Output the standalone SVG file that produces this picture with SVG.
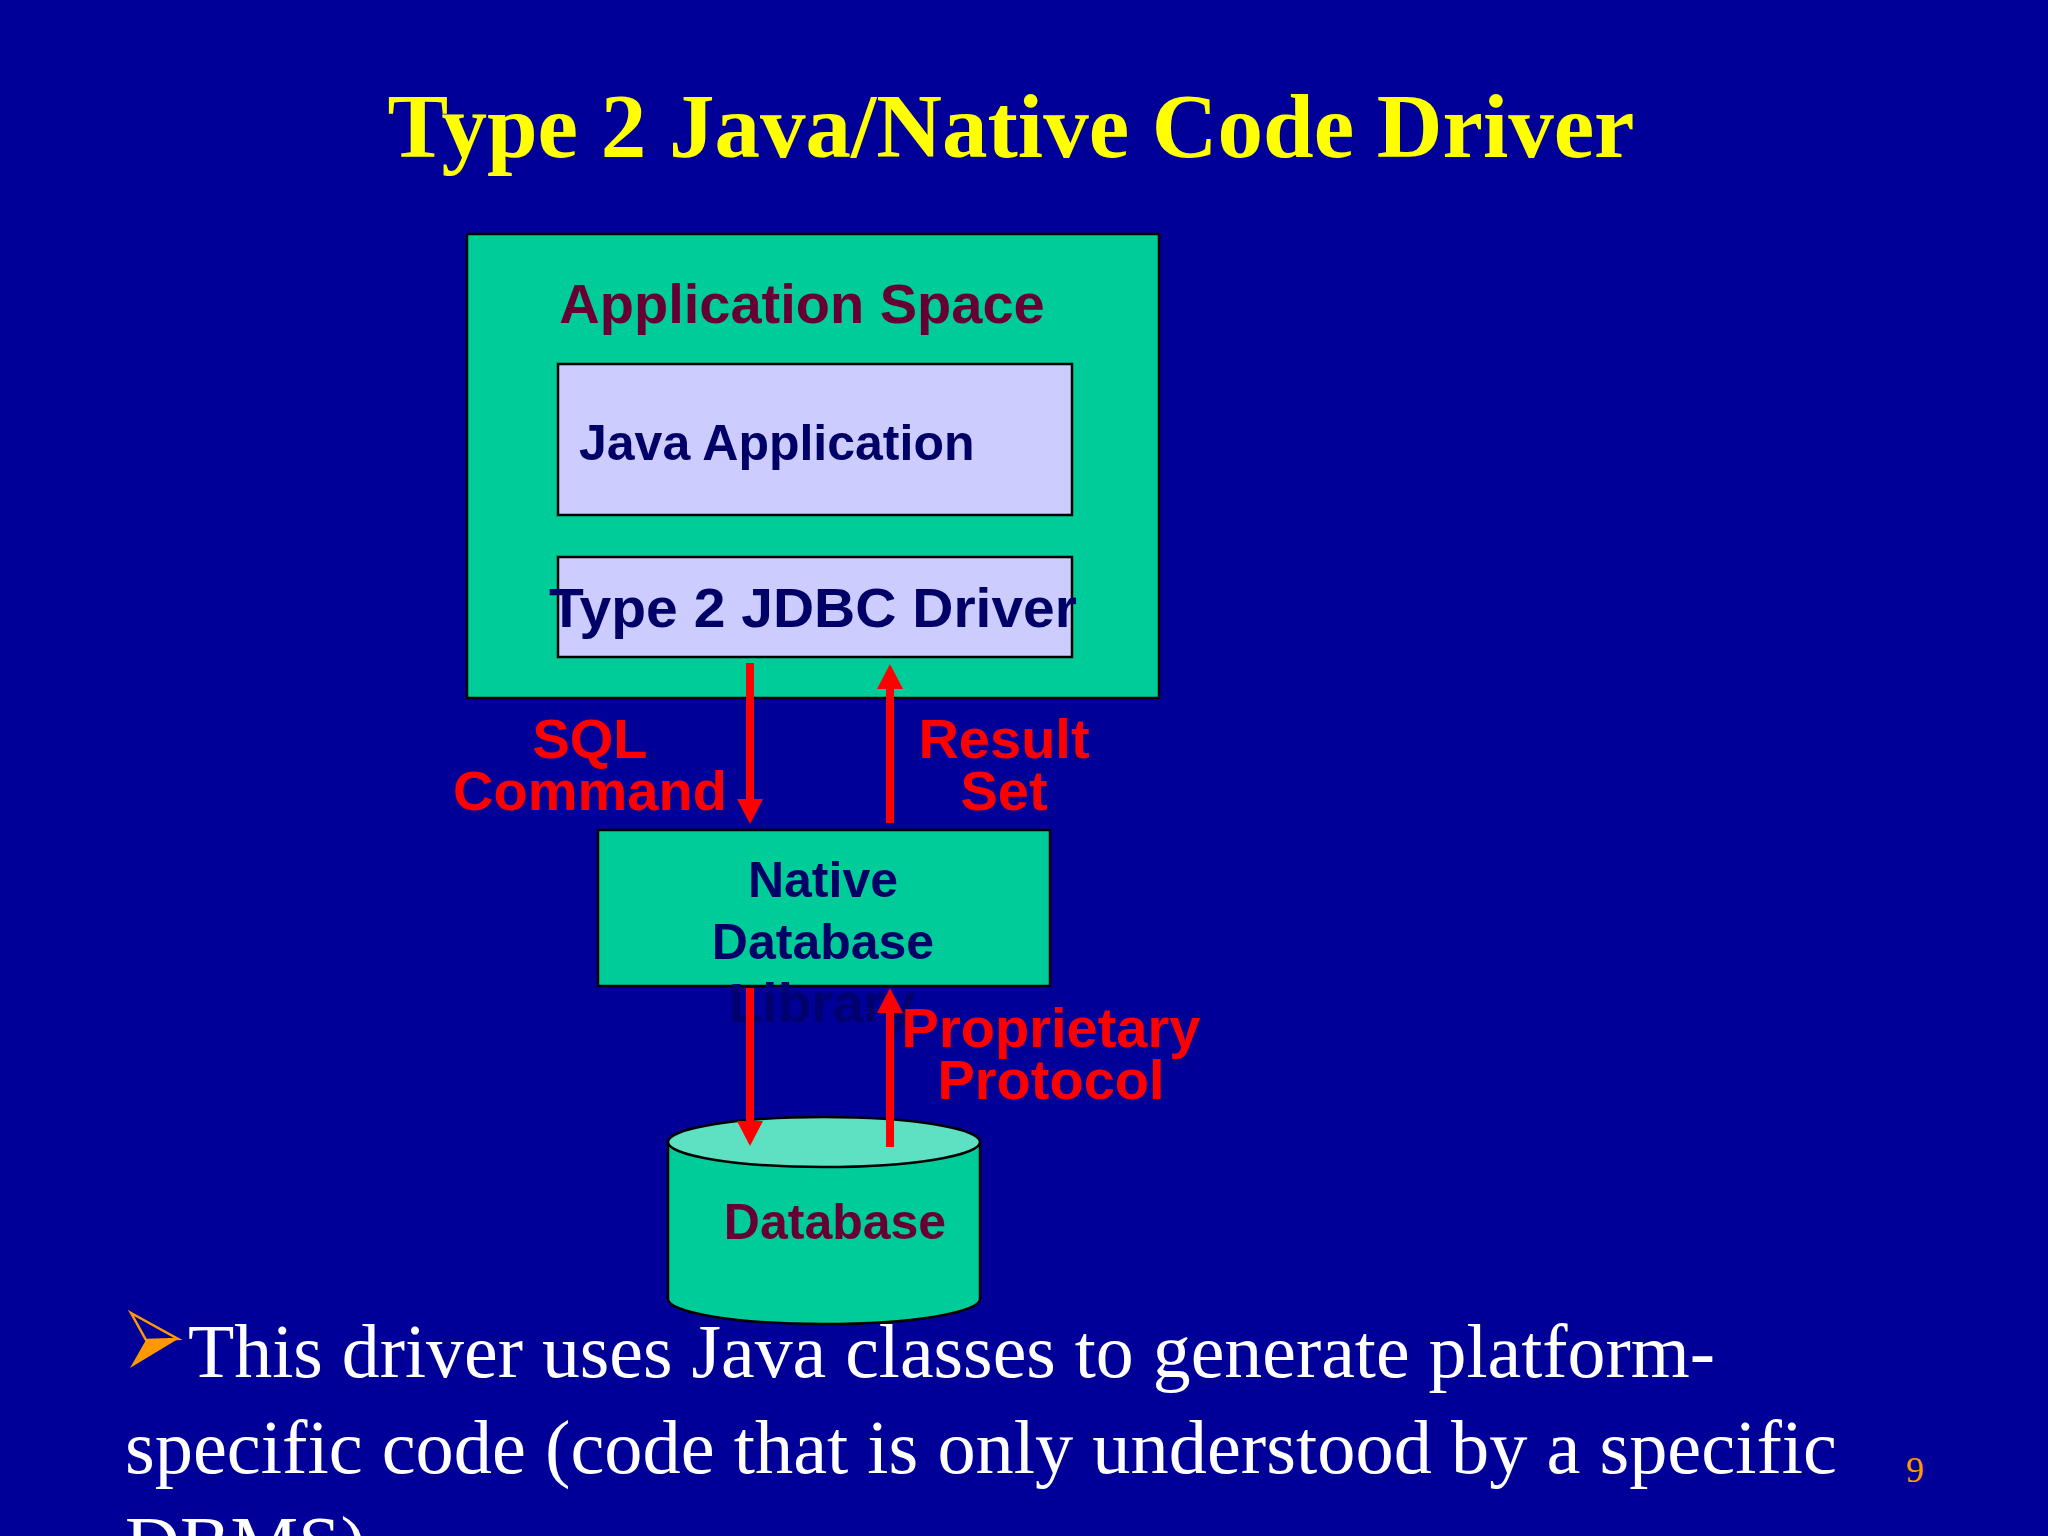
<svg xmlns="http://www.w3.org/2000/svg" width="2048" height="1536" viewBox="0 0 2048 1536">
<style>
.box{stroke:#000;stroke-width:2.5}
.sans{font-family:"Liberation Sans",Arial,sans-serif;font-weight:bold}
.serif{font-family:"Liberation Serif","Times New Roman",serif}
.red{fill:#FF0000;font-size:56px}
.navy{fill:#000066}
.maroon{fill:#660033}
.conn{stroke:#FF0000;stroke-width:8;fill:none}
</style>
<defs>
<marker id="ah" markerUnits="userSpaceOnUse" markerWidth="26" markerHeight="28" refX="1" refY="13" orient="auto" viewBox="0 0 26 26">
<path d="M0,0 L25,13 L0,26 z" fill="#FF0000"/>
</marker>
</defs>
<rect width="2048" height="1536" fill="#000099"/>
<text class="serif" x="1011" y="157" font-size="90" font-weight="bold" fill="#FFFF00" text-anchor="middle" textLength="1247" lengthAdjust="spacingAndGlyphs">Type 2 Java/Native Code Driver</text>

<g id="app-space">
<rect class="box" x="467" y="234" width="692" height="464" fill="#00CC99"/>
<text class="sans maroon" x="802" y="323" font-size="56" text-anchor="middle">Application Space</text>
</g>
<g id="java-app">
<rect class="box" x="558" y="364" width="514" height="151" fill="#CCCCFF"/>
<text class="sans navy" x="579" y="460" font-size="50">Java Application</text>
</g>
<g id="jdbc-driver">
<rect class="box" x="558" y="557" width="514" height="100" fill="#CCCCFF"/>
<text class="sans navy" x="813" y="627" font-size="56" text-anchor="middle" textLength="528" lengthAdjust="spacingAndGlyphs">Type 2 JDBC Driver</text>
</g>
<g id="native-lib">
<rect class="box" x="598" y="830" width="452" height="156" fill="#00CC99"/>
<text class="sans navy" x="823" y="897" font-size="50" text-anchor="middle">Native</text>
<text class="sans navy" x="823" y="959" font-size="50" text-anchor="middle">Database</text>
<text class="sans" x="822" y="1022" font-size="55" text-anchor="middle" fill="#00006E">Library</text>
</g>
<g id="database">
<path class="box" d="M668,1142 L668,1299 A156,25 0 0 0 980,1299 L980,1142 Z" fill="#00CC99"/>
<ellipse class="box" cx="824" cy="1142" rx="156" ry="25" fill="#5EE0C2"/>
<text class="sans maroon" x="835" y="1239" font-size="50" text-anchor="middle">Database</text>
</g>

<g id="connectors">
<line class="conn" x1="750" y1="663" x2="750" y2="800" marker-end="url(#ah)"/>
<line class="conn" x1="890" y1="823" x2="890" y2="688" marker-end="url(#ah)"/>
<line class="conn" x1="750" y1="988" x2="750" y2="1122" marker-end="url(#ah)"/>
<line class="conn" x1="890" y1="1147" x2="890" y2="1012" marker-end="url(#ah)"/>
<text class="sans red" x="590" y="758" text-anchor="middle">SQL</text>
<text class="sans red" x="590" y="810" text-anchor="middle">Command</text>
<text class="sans red" x="1004" y="758" text-anchor="middle">Result</text>
<text class="sans red" x="1004" y="810" text-anchor="middle">Set</text>
<text class="sans red" x="1051" y="1047" text-anchor="middle">Proprietary</text>
<text class="sans red" x="1051" y="1099" text-anchor="middle">Protocol</text>
</g>

<g id="bullet">
<path d="M131,1313 L178,1339 L146,1340 Z" fill="none" stroke="#FF9900" stroke-width="2.5"/>
<path d="M146,1340 L178,1339 L130,1368 Z" fill="#FF9900"/>
<text class="serif" x="188" y="1377" font-size="76" fill="#FFFFFF" textLength="1527" lengthAdjust="spacingAndGlyphs">This driver uses Java classes to generate platform-</text>
<text class="serif" x="125" y="1473" font-size="76" fill="#FFFFFF" textLength="1712" lengthAdjust="spacingAndGlyphs">specific code (code that is only understood by a specific</text>
<text class="serif" x="125" y="1569" font-size="76" fill="#FFFFFF">DBMS)</text>
</g>
<text class="serif" x="1915" y="1482" font-size="36" fill="#FF9900" text-anchor="middle">9</text>
</svg>
